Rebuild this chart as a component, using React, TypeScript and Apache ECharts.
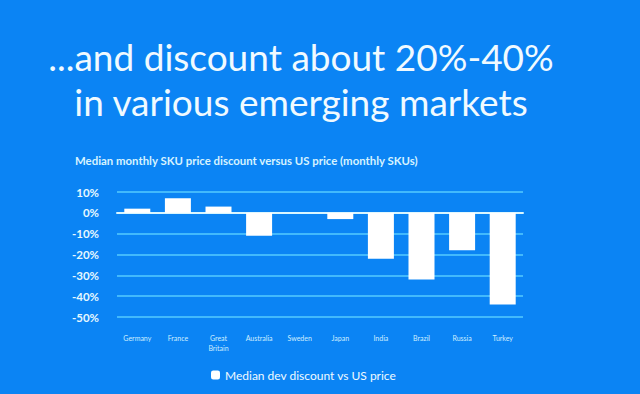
import React, { useEffect, useRef } from "react";
import * as echarts from "echarts";

const categories = ["Germany", "France", "Great\nBritain", "Australia", "Sweden", "Japan", "India", "Brazil", "Russia", "Turkey"];
const discountValues = [2, 7, 3, -11, 0, -3, -22, -32, -18, -44];
const seriesName = "Median dev discount vs US price";
const titleLines = ["...and discount about 20%-40%", "in various emerging markets"];
const subtitle = "Median monthly SKU price discount versus US price (monthly SKUs)";

export default function App() {
  const ref = useRef<HTMLDivElement>(null);
  useEffect(() => {
    if (!ref.current) return;
    const chart = echarts.init(ref.current, null, { renderer: "svg" });
    chart.setOption({
      animation: false,
      backgroundColor: "#0b84f4",
      graphic: [
        {
          type: "text",
          x: 301,
          y: 56,
          style: {
            text: titleLines[0],
            fill: "#f0faff",
            font: "37px Lato",
            textAlign: "center",
            textVerticalAlign: "middle",
          },
        },
        {
          type: "text",
          x: 301,
          y: 101,
          style: {
            text: titleLines[1],
            fill: "#f0faff",
            font: "37px Lato",
            textAlign: "center",
            textVerticalAlign: "middle",
          },
        },
        {
          type: "text",
          x: 75,
          y: 160,
          style: {
            text: subtitle,
            fill: "#d6f3ff",
            font: "bold 11.4px Lato",
            textAlign: "left",
            textVerticalAlign: "middle",
          },
        },
      ],
      legend: {
        bottom: 8,
        left: 206,
        icon: "roundRect",
        itemWidth: 9,
        itemHeight: 9,
        itemGap: 8,
        textStyle: { color: "#f0faff", fontSize: 12, fontFamily: "Lato" },
        data: [seriesName],
      },
      grid: { left: 117, right: 117, top: 192, bottom: 77, containLabel: false },
      xAxis: {
        type: "category",
        data: categories,
        axisLine: { show: true, onZero: true, lineStyle: { color: "#d9f6ff", width: 2 } },
        axisTick: { show: false },
        axisLabel: {
          color: "#cfeeff",
          fontSize: 7,
          fontFamily: "Lato",
          interval: 0,
          margin: 16,
          lineHeight: 10,
        },
        position: "bottom",
      },
      yAxis: {
        type: "value",
        min: -50,
        max: 10,
        interval: 10,
        axisLine: { show: false },
        axisTick: { show: false },
        axisLabel: {
          color: "#e6f8ff",
          fontSize: 11.5,
          fontWeight: "bold",
          fontFamily: "Lato",
          margin: 18,
          formatter: (v: number) => `${v}%`,
        },
        splitLine: { lineStyle: { color: "#56cbff", width: 1.5 } },
      },
      series: [
        {
          name: seriesName,
          type: "bar",
          data: discountValues,
          barWidth: 26,
          itemStyle: { color: "#ffffff" },
        },
      ],
    });
    return () => chart.dispose();
  }, []);
  return <div ref={ref} style={{ position: "absolute", left: 0, top: 0, width: 640, height: 394 }} />;
}
